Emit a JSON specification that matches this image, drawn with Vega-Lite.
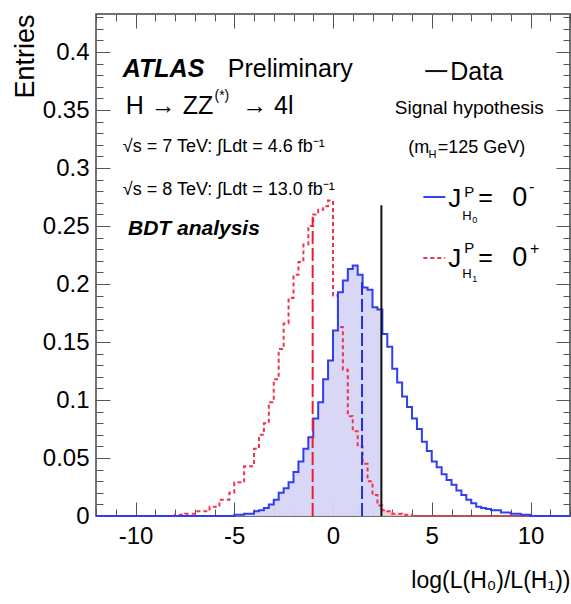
{
  "$schema": "https://vega.github.io/schema/vega-lite/v6.json",
  "autosize": {"type": "none"},
  "width": 474,
  "height": 502,
  "padding": {"left": 96, "top": 14, "right": 1, "bottom": 88},
  "background": "white",
  "config": {
    "view": {"stroke": "#444444", "strokeWidth": 1.5},
    "axis": {"domain": false, "grid": false, "labelFont": "Liberation Sans", "titleFont": "Liberation Sans", "labelColor": "#000000", "titleColor": "#000000", "tickColor": "#555555", "tickWidth": 1, "titleFontWeight": "normal", "labelOverlap": false, "labelFlush": false},
    "text": {"font": "Liberation Sans", "color": "#000000"}
  },
  "datasets": {
    "blue": [
      {"x": -12, "y": 0}, {"x": -5, "y": 0.001}, {"x": -4.5, "y": 0.002}, {"x": -4, "y": 0.004}, {"x": -3.75, "y": 0.005},
      {"x": -3.5, "y": 0.007}, {"x": -3.25, "y": 0.01}, {"x": -3.0, "y": 0.014}, {"x": -2.75, "y": 0.02}, {"x": -2.5, "y": 0.024},
      {"x": -2.25, "y": 0.029}, {"x": -2.0, "y": 0.038}, {"x": -1.75, "y": 0.047}, {"x": -1.5, "y": 0.058}, {"x": -1.25, "y": 0.068},
      {"x": -1.0, "y": 0.084}, {"x": -0.75, "y": 0.098}, {"x": -0.5, "y": 0.118}, {"x": -0.25, "y": 0.134}, {"x": 0, "y": 0.16},
      {"x": 0.25, "y": 0.193}, {"x": 0.5, "y": 0.203}, {"x": 0.75, "y": 0.213}, {"x": 1.0, "y": 0.216}, {"x": 1.25, "y": 0.208},
      {"x": 1.5, "y": 0.197}, {"x": 1.75, "y": 0.195}, {"x": 2.0, "y": 0.18}, {"x": 2.25, "y": 0.178}, {"x": 2.5, "y": 0.157},
      {"x": 2.75, "y": 0.146}, {"x": 3.0, "y": 0.127}, {"x": 3.25, "y": 0.115}, {"x": 3.5, "y": 0.103}, {"x": 3.75, "y": 0.094},
      {"x": 4.0, "y": 0.084}, {"x": 4.25, "y": 0.075}, {"x": 4.5, "y": 0.064}, {"x": 4.75, "y": 0.056}, {"x": 5.0, "y": 0.047},
      {"x": 5.25, "y": 0.042}, {"x": 5.5, "y": 0.036}, {"x": 5.75, "y": 0.031}, {"x": 6.0, "y": 0.027}, {"x": 6.25, "y": 0.022},
      {"x": 6.5, "y": 0.018}, {"x": 6.75, "y": 0.014}, {"x": 7.0, "y": 0.011}, {"x": 7.25, "y": 0.008}, {"x": 7.5, "y": 0.007},
      {"x": 7.75, "y": 0.006}, {"x": 8.0, "y": 0.005}, {"x": 8.5, "y": 0.003}, {"x": 9.0, "y": 0.002}, {"x": 9.5, "y": 0.001},
      {"x": 10, "y": 0}, {"x": 12, "y": 0}
    ],
    "blueFill": [
      {"x": -12, "y": 0}, {"x": -5, "y": 0.001}, {"x": -4.5, "y": 0.002}, {"x": -4, "y": 0.004}, {"x": -3.75, "y": 0.005},
      {"x": -3.5, "y": 0.007}, {"x": -3.25, "y": 0.01}, {"x": -3.0, "y": 0.014}, {"x": -2.75, "y": 0.02}, {"x": -2.5, "y": 0.024},
      {"x": -2.25, "y": 0.029}, {"x": -2.0, "y": 0.038}, {"x": -1.75, "y": 0.047}, {"x": -1.5, "y": 0.058}, {"x": -1.25, "y": 0.068},
      {"x": -1.0, "y": 0.084}, {"x": -0.75, "y": 0.098}, {"x": -0.5, "y": 0.118}, {"x": -0.25, "y": 0.134}, {"x": 0, "y": 0.16},
      {"x": 0.25, "y": 0.193}, {"x": 0.5, "y": 0.203}, {"x": 0.75, "y": 0.213}, {"x": 1.0, "y": 0.216}, {"x": 1.25, "y": 0.208},
      {"x": 1.5, "y": 0.197}, {"x": 1.75, "y": 0.195}, {"x": 2.0, "y": 0.18}, {"x": 2.25, "y": 0.178}, {"x": 2.45, "y": 0.178}
    ],
    "red": [
      {"x": -12, "y": 0}, {"x": -8, "y": 0.001}, {"x": -7.5, "y": 0.002}, {"x": -7, "y": 0.004}, {"x": -6.25, "y": 0.008},
      {"x": -5.75, "y": 0.014}, {"x": -5.25, "y": 0.02}, {"x": -5.0, "y": 0.029}, {"x": -4.5, "y": 0.043}, {"x": -4.0, "y": 0.058},
      {"x": -3.75, "y": 0.07}, {"x": -3.5, "y": 0.08}, {"x": -3.25, "y": 0.098}, {"x": -3.0, "y": 0.118}, {"x": -2.75, "y": 0.144},
      {"x": -2.5, "y": 0.166}, {"x": -2.25, "y": 0.188}, {"x": -2.0, "y": 0.208}, {"x": -1.75, "y": 0.219}, {"x": -1.5, "y": 0.234},
      {"x": -1.25, "y": 0.25}, {"x": -1.0, "y": 0.26}, {"x": -0.75, "y": 0.264}, {"x": -0.5, "y": 0.267}, {"x": -0.25, "y": 0.272},
      {"x": 0, "y": 0.19}, {"x": 0.25, "y": 0.163}, {"x": 0.5, "y": 0.126}, {"x": 0.75, "y": 0.086}, {"x": 1.0, "y": 0.073},
      {"x": 1.25, "y": 0.06}, {"x": 1.5, "y": 0.045}, {"x": 1.75, "y": 0.03}, {"x": 2.0, "y": 0.018}, {"x": 2.25, "y": 0.009},
      {"x": 2.5, "y": 0.005}, {"x": 2.75, "y": 0.004}, {"x": 3.0, "y": 0.002}, {"x": 3.5, "y": 0.001}, {"x": 4.0, "y": 0},
      {"x": 12, "y": 0}
    ],
    "redFill": [
      {"x": 2.45, "y": 0.009}, {"x": 2.5, "y": 0.005}, {"x": 2.75, "y": 0.004}, {"x": 3.0, "y": 0.002}, {"x": 3.5, "y": 0.001}, {"x": 4.0, "y": 0}
    ]
  },
  "data": {"values": [{}]},
  "resolve": {"axis": {"x": "independent", "y": "independent"}},
  "layer": [
    {
      "data": {"name": "blueFill"},
      "mark": {"type": "area", "interpolate": "step-after", "color": "#d6d6f6", "opacity": 0.95},
      "encoding": {
        "x": {"field": "x", "type": "quantitative", "scale": {"domain": [-12, 12], "nice": false, "zero": false},
          "axis": {"orient": "bottom", "values": [-12,-11,-10,-9,-8,-7,-6,-5,-4,-3,-2,-1,0,1,2,3,4,5,6,7,8,9,10,11,12],
            "labelExpr": "datum.value % 5 === 0 ? '' + datum.value : ''",
            "tickSize": {"condition": {"test": "datum.value % 5 === 0", "value": -14}, "value": -7},
            "labelFontSize": 24, "labelPadding": 22,
            "title": "log(L(H₀)/L(H₁))", "titleAnchor": "end", "titleAlign": "right", "titleFontSize": 23, "titlePadding": 14}},
        "y": {"field": "y", "type": "quantitative", "stack": null, "scale": {"domain": [0, 0.4328], "nice": false, "zero": false},
          "axis": {"orient": "left", "values": [0,0.01,0.02,0.03,0.04,0.05,0.06,0.07,0.08,0.09,0.1,0.11,0.12,0.13,0.14,0.15,0.16,0.17,0.18,0.19,0.2,0.21,0.22,0.23,0.24,0.25,0.26,0.27,0.28,0.29,0.3,0.31,0.32,0.33,0.34,0.35,0.36,0.37,0.38,0.39,0.4,0.41,0.42,0.43],
            "labelExpr": "round(datum.value*100) % 5 === 0 ? '' + round(datum.value*100)/100 : ''",
            "tickSize": {"condition": {"test": "round(datum.value*100) % 5 === 0", "value": -14}, "value": -7},
            "labelFontSize": 24, "labelPadding": 21,
            "title": "Entries", "titleAnchor": "end", "titleFontSize": 27, "titlePadding": 3}}
      }
    },
    {
      "data": {"name": "redFill"},
      "mark": {"type": "area", "interpolate": "step-after", "color": "#f7c4cc", "opacity": 0.9},
      "encoding": {
        "x": {"field": "x", "type": "quantitative", "scale": {"domain": [-12, 12], "nice": false, "zero": false},
          "axis": {"orient": "top", "values": [-12,-11,-10,-9,-8,-7,-6,-5,-4,-3,-2,-1,0,1,2,3,4,5,6,7,8,9,10,11,12], "labels": false, "title": null,
            "tickSize": {"condition": {"test": "datum.value % 5 === 0", "value": -14}, "value": -7}}},
        "y": {"field": "y", "type": "quantitative", "stack": null, "scale": {"domain": [0, 0.4328], "nice": false, "zero": false},
          "axis": {"orient": "right", "values": [0,0.01,0.02,0.03,0.04,0.05,0.06,0.07,0.08,0.09,0.1,0.11,0.12,0.13,0.14,0.15,0.16,0.17,0.18,0.19,0.2,0.21,0.22,0.23,0.24,0.25,0.26,0.27,0.28,0.29,0.3,0.31,0.32,0.33,0.34,0.35,0.36,0.37,0.38,0.39,0.4,0.41,0.42,0.43], "labels": false, "title": null,
            "tickSize": {"condition": {"test": "round(datum.value*100) % 5 === 0", "value": -14}, "value": -7}}}
      }
    },
    {
      "data": {"name": "red"},
      "mark": {"type": "line", "interpolate": "step-after", "color": "#f2334f", "strokeWidth": 2, "strokeDash": [4, 3]},
      "encoding": {
        "x": {"field": "x", "type": "quantitative", "axis": null},
        "y": {"field": "y", "type": "quantitative", "axis": null}
      }
    },
    {
      "data": {"name": "blue"},
      "mark": {"type": "line", "interpolate": "step-after", "color": "#2f3ff0", "strokeWidth": 2},
      "encoding": {
        "x": {"field": "x", "type": "quantitative", "axis": null},
        "y": {"field": "y", "type": "quantitative", "axis": null}
      }
    },
    {
      "mark": {"type": "rule", "color": "#e8202e", "strokeWidth": 2, "strokeDash": [13, 4]},
      "encoding": {"x": {"datum": -1.03, "type": "quantitative", "axis": null}, "y": {"datum": 0, "type": "quantitative", "axis": null}, "y2": {"datum": 0.258}}
    },
    {
      "mark": {"type": "rule", "color": "#2030e0", "strokeWidth": 2, "strokeDash": [13, 4]},
      "encoding": {"x": {"datum": 1.47, "type": "quantitative", "axis": null}, "y": {"datum": 0, "type": "quantitative", "axis": null}, "y2": {"datum": 0.205}}
    },
    {
      "mark": {"type": "rule", "color": "#111111", "strokeWidth": 2},
      "encoding": {"x": {"datum": 2.45, "type": "quantitative", "axis": null}, "y": {"datum": 0, "type": "quantitative", "axis": null}, "y2": {"datum": 0.268}}
    },
    {
      "mark": {"type": "text", "text": "ATLAS", "fontSize": 25, "fontWeight": "bold", "fontStyle": "italic", "align": "left", "baseline": "alphabetic"},
      "encoding": {"x": {"datum": -10.64, "type": "quantitative", "axis": null}, "y": {"datum": 0.3784, "type": "quantitative", "axis": null}}
    },
    {
      "mark": {"type": "text", "text": "Preliminary", "fontSize": 25, "align": "left", "baseline": "alphabetic"},
      "encoding": {"x": {"datum": -5.33, "type": "quantitative", "axis": null}, "y": {"datum": 0.3784, "type": "quantitative", "axis": null}}
    },
    {
      "mark": {"type": "text", "text": "H → ZZ", "fontSize": 25, "align": "left", "baseline": "alphabetic"},
      "encoding": {"x": {"datum": -10.49, "type": "quantitative", "axis": null}, "y": {"datum": 0.3466, "type": "quantitative", "axis": null}}
    },
    {
      "mark": {"type": "text", "text": "(*)", "fontSize": 14, "align": "left", "baseline": "alphabetic"},
      "encoding": {"x": {"datum": -6.0, "type": "quantitative", "axis": null}, "y": {"datum": 0.3586, "type": "quantitative", "axis": null}}
    },
    {
      "mark": {"type": "text", "text": "→ 4l", "fontSize": 25, "align": "left", "baseline": "alphabetic"},
      "encoding": {"x": {"datum": -4.6, "type": "quantitative", "axis": null}, "y": {"datum": 0.3466, "type": "quantitative", "axis": null}}
    },
    {
      "mark": {"type": "text", "text": "√s = 7 TeV: ∫Ldt = 4.6 fb⁻¹", "fontSize": 18, "align": "left", "baseline": "alphabetic"},
      "encoding": {"x": {"datum": -10.64, "type": "quantitative", "axis": null}, "y": {"datum": 0.3138, "type": "quantitative", "axis": null}}
    },
    {
      "mark": {"type": "text", "text": "√s = 8 TeV: ∫Ldt = 13.0 fb⁻¹", "fontSize": 18, "align": "left", "baseline": "alphabetic"},
      "encoding": {"x": {"datum": -10.64, "type": "quantitative", "axis": null}, "y": {"datum": 0.2767, "type": "quantitative", "axis": null}}
    },
    {
      "mark": {"type": "text", "text": "BDT analysis", "fontSize": 21, "fontWeight": "bold", "fontStyle": "italic", "align": "left", "baseline": "alphabetic"},
      "encoding": {"x": {"datum": -10.38, "type": "quantitative", "axis": null}, "y": {"datum": 0.2422, "type": "quantitative", "axis": null}}
    },
    {
      "mark": {"type": "rule", "color": "#111111", "strokeWidth": 2},
      "encoding": {"x": {"datum": 4.674, "type": "quantitative", "axis": null}, "x2": {"datum": 5.786}, "y": {"datum": 0.3836, "type": "quantitative", "axis": null}}
    },
    {
      "mark": {"type": "text", "text": "Data", "fontSize": 25, "align": "left", "baseline": "alphabetic"},
      "encoding": {"x": {"datum": 5.937, "type": "quantitative", "axis": null}, "y": {"datum": 0.3759, "type": "quantitative", "axis": null}}
    },
    {
      "mark": {"type": "text", "text": "Signal hypothesis", "fontSize": 19, "align": "center", "baseline": "alphabetic"},
      "encoding": {"x": {"datum": 6.897, "type": "quantitative", "axis": null}, "y": {"datum": 0.3466, "type": "quantitative", "axis": null}}
    },
    {
      "mark": {"type": "text", "text": "(m", "fontSize": 18, "align": "left", "baseline": "alphabetic"},
      "encoding": {"x": {"datum": 3.815, "type": "quantitative", "axis": null}, "y": {"datum": 0.3129, "type": "quantitative", "axis": null}}
    },
    {
      "mark": {"type": "text", "text": "H", "fontSize": 11, "align": "left", "baseline": "alphabetic"},
      "encoding": {"x": {"datum": 4.84, "type": "quantitative", "axis": null}, "y": {"datum": 0.3086, "type": "quantitative", "axis": null}}
    },
    {
      "mark": {"type": "text", "text": "=125 GeV)", "fontSize": 18, "align": "left", "baseline": "alphabetic"},
      "encoding": {"x": {"datum": 5.30, "type": "quantitative", "axis": null}, "y": {"datum": 0.3129, "type": "quantitative", "axis": null}}
    },
    {
      "mark": {"type": "rule", "color": "#2f3ff0", "strokeWidth": 2},
      "encoding": {"x": {"datum": 4.573, "type": "quantitative", "axis": null}, "x2": {"datum": 5.685}, "y": {"datum": 0.275, "type": "quantitative", "axis": null}}
    },
    {
      "mark": {"type": "rule", "color": "#f2334f", "strokeWidth": 2, "strokeDash": [4, 3]},
      "encoding": {"x": {"datum": 4.573, "type": "quantitative", "axis": null}, "x2": {"datum": 5.685}, "y": {"datum": 0.2224, "type": "quantitative", "axis": null}}
    },
    {
      "mark": {"type": "text", "text": "J", "fontSize": 26, "align": "left", "baseline": "alphabetic"},
      "encoding": {"x": {"datum": 5.836, "type": "quantitative", "axis": null}, "y": {"datum": 0.2664, "type": "quantitative", "axis": null}}
    },
    {
      "mark": {"type": "text", "text": "P", "fontSize": 15, "align": "left", "baseline": "alphabetic"},
      "encoding": {"x": {"datum": 6.645, "type": "quantitative", "axis": null}, "y": {"datum": 0.275, "type": "quantitative", "axis": null}}
    },
    {
      "mark": {"type": "text", "text": "H", "fontSize": 13, "align": "left", "baseline": "alphabetic"},
      "encoding": {"x": {"datum": 6.544, "type": "quantitative", "axis": null}, "y": {"datum": 0.2552, "type": "quantitative", "axis": null}}
    },
    {
      "mark": {"type": "text", "text": "0", "fontSize": 9, "align": "left", "baseline": "alphabetic"},
      "encoding": {"x": {"datum": 7.049, "type": "quantitative", "axis": null}, "y": {"datum": 0.2526, "type": "quantitative", "axis": null}}
    },
    {
      "mark": {"type": "text", "text": "=", "fontSize": 25, "align": "left", "baseline": "alphabetic"},
      "encoding": {"x": {"datum": 7.35, "type": "quantitative", "axis": null}, "y": {"datum": 0.2672, "type": "quantitative", "axis": null}}
    },
    {
      "mark": {"type": "text", "text": "0", "fontSize": 27, "align": "left", "baseline": "alphabetic"},
      "encoding": {"x": {"datum": 9.08, "type": "quantitative", "axis": null}, "y": {"datum": 0.2672, "type": "quantitative", "axis": null}}
    },
    {
      "mark": {"type": "text", "text": "-", "fontSize": 16, "align": "left", "baseline": "alphabetic"},
      "encoding": {"x": {"datum": 9.93, "type": "quantitative", "axis": null}, "y": {"datum": 0.2793, "type": "quantitative", "axis": null}}
    },
    {
      "mark": {"type": "text", "text": "J", "fontSize": 26, "align": "left", "baseline": "alphabetic"},
      "encoding": {"x": {"datum": 5.836, "type": "quantitative", "axis": null}, "y": {"datum": 0.2147, "type": "quantitative", "axis": null}}
    },
    {
      "mark": {"type": "text", "text": "P", "fontSize": 15, "align": "left", "baseline": "alphabetic"},
      "encoding": {"x": {"datum": 6.645, "type": "quantitative", "axis": null}, "y": {"datum": 0.2267, "type": "quantitative", "axis": null}}
    },
    {
      "mark": {"type": "text", "text": "H", "fontSize": 13, "align": "left", "baseline": "alphabetic"},
      "encoding": {"x": {"datum": 6.544, "type": "quantitative", "axis": null}, "y": {"datum": 0.2052, "type": "quantitative", "axis": null}}
    },
    {
      "mark": {"type": "text", "text": "1", "fontSize": 9, "align": "left", "baseline": "alphabetic"},
      "encoding": {"x": {"datum": 7.049, "type": "quantitative", "axis": null}, "y": {"datum": 0.2017, "type": "quantitative", "axis": null}}
    },
    {
      "mark": {"type": "text", "text": "=", "fontSize": 25, "align": "left", "baseline": "alphabetic"},
      "encoding": {"x": {"datum": 7.35, "type": "quantitative", "axis": null}, "y": {"datum": 0.2155, "type": "quantitative", "axis": null}}
    },
    {
      "mark": {"type": "text", "text": "0", "fontSize": 27, "align": "left", "baseline": "alphabetic"},
      "encoding": {"x": {"datum": 9.08, "type": "quantitative", "axis": null}, "y": {"datum": 0.2155, "type": "quantitative", "axis": null}}
    },
    {
      "mark": {"type": "text", "text": "+", "fontSize": 16, "align": "left", "baseline": "alphabetic"},
      "encoding": {"x": {"datum": 9.98, "type": "quantitative", "axis": null}, "y": {"datum": 0.2259, "type": "quantitative", "axis": null}}
    }
  ]
}
